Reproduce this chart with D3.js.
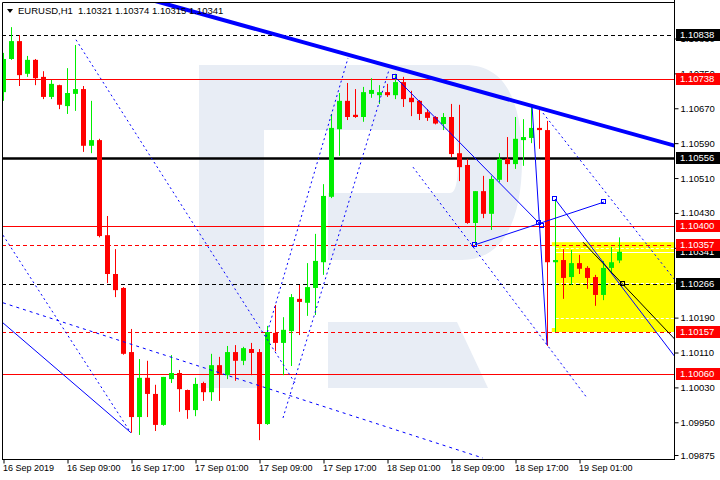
<!DOCTYPE html>
<html><head><meta charset="utf-8">
<script src="https://cdn.jsdelivr.net/npm/d3@7"></script>
<style>
body{margin:0;background:#fff}
svg{display:block}
text{font-family:"Liberation Sans",Arial,sans-serif;font-size:9px}
</style>
</head><body>
<svg id="chart" width="720" height="480"></svg>
<script>
// ---------------- DATA ----------------
const symbolName = "EURUSD,H1";
const lastQuote = [1.10321, 1.10374, 1.10315, 1.10341];

const timeLabels = ["16 Sep 2019","16 Sep 09:00","16 Sep 17:00","17 Sep 01:00","17 Sep 09:00",
  "17 Sep 17:00","18 Sep 01:00","18 Sep 09:00","18 Sep 17:00","19 Sep 01:00"];
const timeLabelBars = [0, 8, 16, 24, 32, 40, 48, 56, 64, 72];

const opens = [1.10707,1.10783,1.10824,1.10749,1.10781,1.10742,1.10696,1.10723,1.10675,1.10703,
  1.10714,1.10584,1.10597,1.10379,1.10290,1.10258,1.10111,1.09962,1.10052,1.10015,
  1.09944,1.10049,1.10063,1.10024,1.09978,1.10040,1.10019,1.10081,1.10058,1.10111,
  1.10091,1.10118,1.10111,1.09946,1.10155,1.10132,1.10159,1.10233,1.10224,1.10258,
  1.10317,1.10467,1.10622,1.10687,1.10655,1.10650,1.10703,1.10700,1.10707,1.10700,
  1.10730,1.10694,1.10687,1.10661,1.10650,1.10634,1.10650,1.10567,1.10540,1.10407,
  1.10480,1.10428,1.10506,1.10554,1.10542,1.10597,1.10602,1.10625,1.10620,1.10317,
  1.10322,1.10283,1.10315,1.10304,1.10283,1.10242,1.10304,1.10321];
const highs = [1.10797,1.10856,1.10838,1.10790,1.10783,1.10755,1.10735,1.10724,1.10762,1.10815,
  1.10721,1.10687,1.10600,1.10423,1.10347,1.10260,1.10164,1.10095,1.10091,1.10036,
  1.10054,1.10104,1.10070,1.10025,1.10052,1.10043,1.10107,1.10100,1.10125,1.10127,
  1.10123,1.10132,1.10118,1.10171,1.10219,1.10191,1.10244,1.10265,1.10315,1.10382,
  1.10496,1.10657,1.10705,1.10728,1.10714,1.10719,1.10739,1.10723,1.10726,1.10749,
  1.10742,1.10710,1.10689,1.10668,1.10652,1.10659,1.10680,1.10678,1.10554,1.10480,
  1.10515,1.10515,1.10567,1.10604,1.10650,1.10645,1.10678,1.10671,1.10641,1.10462,
  1.10347,1.10345,1.10334,1.10308,1.10288,1.10320,1.10352,1.10374];
const lows = [1.10687,1.10781,1.10721,1.10742,1.10723,1.10691,1.10691,1.10668,1.10657,1.10664,
  1.10570,1.10567,1.10374,1.10269,1.10237,1.10105,1.09926,1.09921,1.09962,1.09930,
  1.09942,1.10040,1.09974,1.09958,1.09964,1.09999,1.09999,1.09999,1.10049,1.10045,
  1.10081,1.10058,1.09909,1.09944,1.10113,1.10058,1.10079,1.10150,1.10194,1.10196,
  1.10288,1.10464,1.10561,1.10643,1.10648,1.10639,1.10694,1.10680,1.10696,1.10691,
  1.10673,1.10652,1.10643,1.10641,1.10633,1.10620,1.10558,1.10503,1.10405,1.10357,
  1.10418,1.10391,1.10501,1.10501,1.10531,1.10538,1.10590,1.10577,1.10125,1.10157,
  1.10233,1.10265,1.10290,1.10256,1.10217,1.10230,1.10290,1.10315];
const closes = [1.10783,1.10824,1.10746,1.10781,1.10739,1.10696,1.10726,1.10678,1.10705,1.10714,
  1.10584,1.10597,1.10377,1.10290,1.10253,1.10107,1.09962,1.10052,1.10015,1.09944,
  1.10054,1.10063,1.10026,1.09978,1.10038,1.10019,1.10081,1.10061,1.10111,1.10091,
  1.10120,1.10109,1.09946,1.10157,1.10132,1.10162,1.10237,1.10226,1.10260,1.10320,
  1.10469,1.10625,1.10687,1.10650,1.10650,1.10707,1.10712,1.10707,1.10700,1.10730,
  1.10691,1.10684,1.10657,1.10648,1.10635,1.10650,1.10565,1.10535,1.10407,1.10480,
  1.10428,1.10508,1.10554,1.10542,1.10600,1.10604,1.10625,1.10620,1.10317,1.10322,
  1.10281,1.10315,1.10302,1.10281,1.10242,1.10304,1.10317,1.10341];

const priceTicks = [1.10830,1.10750,1.10670,1.10590,1.10510,1.10430,1.10350,1.10270,
  1.10190,1.10110,1.10030,1.09950,1.09875];
const hiddenTickLabels = [1.10350, 1.10270];

const levelPrices = [1.10838,1.10738,1.10556,1.10400,1.10357,1.10266,1.10157,1.10060];
const levelKinds  = ["dashBlack","solidRed","thickBlack","solidRed","dashRed","dashBlack","dashRed","solidRed"];
const bidPrice = 1.10341;

// trend objects: [bar, price] anchors
const trendStarts = [[19,1.10916],[9.125,1.10827],[0,1.10379],[-0.2,1.10181],[0,1.10224],
  [32.875,1.10146],[35,1.09960],[51.25,1.10535],[67.5,1.10659],[59,1.10357],
  [49,1.10742],[66.125,1.10678],[69,1.10462],[72.5,1.10363]];
const trendEnds = [[84,1.10584],[36.5,1.10040],[15.9,1.09928],[16,1.09926],[60,1.09868],
  [43.125,1.10785],[48.25,1.10758],[73,1.10006],[84,1.10276],[75.125,1.10455],
  [67,1.10407],[68,1.10127],[84,1.10100],[84,1.10140]];
const trendKinds = ["thick","dot","dot","thin","dash","dot","dot","dot","dot","thin",
  "thin","thin","thin","black"];

const anchorPoints = [[49,1.10742],[59,1.10357],[67,1.10407],[75.125,1.10455],[69,1.10462],[67.4,1.10400]];
const targetPoint = [77.5,1.10266];

const boxBars = [69.1, 85];
const boxPrices = [1.10363, 1.10157];
const boxGrid = [1.10350, 1.10270, 1.10190];

// ---------------- DRAW ----------------
const svg = d3.select("#chart");
const L = 2, T = 2, R = 674, B = 459;

const x = d3.scaleLinear().domain([0, 84]).range([3, 675]);
const y = d3.scaleLinear().domain([1.09875, 1.10838]).range([455, 35]);

svg.append("rect").attr("width",720).attr("height",480).attr("fill","#fff");

svg.append("defs").append("clipPath").attr("id","plot")
  .append("rect").attr("x",L+1).attr("y",T+1).attr("width",R-L-1).attr("height",B-T-1);

const plot = svg.append("g").attr("clip-path","url(#plot)");

// watermark logo (decorative background)
const wm = plot.append("g").attr("fill","#e8edf5");
wm.append("rect").attr("x",199).attr("y",65).attr("width",65).attr("height",323);
wm.append("path").attr("d","M264,65 L465,65 C505,65 522,100 522,160 C522,225 500,260 462,260 L328,260 L328,193 L450,193 C456,193 458,180 458,162 C458,140 455,130 450,130 L264,130 Z");
wm.append("path").attr("d","M328,322 L457,322 L488,388 L328,388 Z");

// yellow box
plot.append("rect")
  .attr("x", x(boxBars[0])).attr("y", y(boxPrices[0]))
  .attr("width", x(boxBars[1]) - x(boxBars[0]))
  .attr("height", y(boxPrices[1]) - y(boxPrices[0]))
  .attr("fill","#ffff00");
plot.selectAll(".yh").data([boxPrices[0], boxPrices[1]]).join("rect")
  .attr("x", x(boxBars[0]) - 4).attr("y", d => y(d) - (d===boxPrices[0]?0:4))
  .attr("width",4).attr("height",4).attr("fill","#ffff00");
plot.selectAll(".bg").data(boxGrid).join("line")
  .attr("x1", x(boxBars[0])).attr("x2", x(boxBars[1]))
  .attr("y1", d => Math.round(y(d)) + 0.5).attr("y2", d => Math.round(y(d)) + 0.5)
  .attr("stroke","#fff").attr("stroke-dasharray","3,2");
plot.append("line")
  .attr("x1", x(boxBars[0])).attr("x2", x(boxBars[1]))
  .attr("y1", Math.round(y(bidPrice)) + 0.5).attr("y2", Math.round(y(bidPrice)) + 0.5)
  .attr("stroke","#fff");

// horizontal levels
const levelStyle = {
  dashBlack: {c:"#000", w:1, d:"4,3"},
  solidRed: {c:"#ff0000", w:1, d:null},
  thickBlack:{c:"#000", w:2.5, d:null},
  dashRed:  {c:"#ff0000", w:1, d:"4,3"}
};
plot.selectAll(".lvl").data(levelPrices).join("line")
  .attr("x1", L).attr("x2", R)
  .attr("y1", d => Math.round(y(d)) + 0.5).attr("y2", d => Math.round(y(d)) + 0.5)
  .attr("stroke", (d,i) => levelStyle[levelKinds[i]].c)
  .attr("stroke-width", (d,i) => levelStyle[levelKinds[i]].w)
  .attr("stroke-dasharray", (d,i) => levelStyle[levelKinds[i]].d);

// candles
const bars = d3.range(opens.length).map(i => ({i, o:opens[i], h:highs[i], l:lows[i], c:closes[i]}));
const up = "#00ee00", dn = "#ff0000";
const cg = plot.append("g");
cg.selectAll(".wick").data(bars).join("line")
  .attr("x1", d => x(d.i) + 0.5).attr("x2", d => x(d.i) + 0.5)
  .attr("y1", d => y(d.h)).attr("y2", d => y(d.l))
  .attr("stroke", d => d.c >= d.o ? up : dn);
cg.selectAll(".body").data(bars).join("rect")
  .attr("x", d => x(d.i) - 2).attr("width", 5)
  .attr("y", d => y(Math.max(d.o, d.c)))
  .attr("height", d => Math.max(1.5, Math.abs(y(d.o) - y(d.c))))
  .attr("fill", d => d.c >= d.o ? up : dn);

// trend lines
const trendStyle = {
  thick: {c:"#0000ff", w:4, d:null},
  dot:   {c:"#0000ff", w:1, d:"2,3"},
  dash:  {c:"#0000ff", w:1, d:"3,4"},
  thin:  {c:"#0000ff", w:1, d:null},
  black: {c:"#000", w:1, d:null}
};
plot.selectAll(".tr").data(trendStarts).join("line")
  .attr("x1", d => x(d[0])).attr("y1", d => y(d[1]))
  .attr("x2", (d,i) => x(trendEnds[i][0])).attr("y2", (d,i) => y(trendEnds[i][1]))
  .attr("stroke", (d,i) => trendStyle[trendKinds[i]].c)
  .attr("stroke-width", (d,i) => trendStyle[trendKinds[i]].w)
  .attr("stroke-dasharray", (d,i) => trendStyle[trendKinds[i]].d);

plot.selectAll(".anc").data(anchorPoints).join("rect")
  .attr("x", d => Math.round(x(d[0])) - 2.5).attr("y", d => Math.round(y(d[1])) - 2.5)
  .attr("width",4).attr("height",4).attr("fill","none").attr("stroke","#0000ff");
plot.append("rect")
  .attr("x", Math.round(x(targetPoint[0])) - 2.5).attr("y", Math.round(y(targetPoint[1])) - 2.5)
  .attr("width",4).attr("height",4).attr("fill","none").attr("stroke","#000");

// frame
svg.append("path").attr("d",`M${L+0.5},${B} V${T+0.5} H${R+0.5}`).attr("fill","none").attr("stroke","#000");
svg.append("line").attr("x1",R+0.5).attr("x2",R+0.5).attr("y1",0).attr("y2",B+1).attr("stroke","#000");
svg.append("line").attr("x1",L).attr("x2",R+1).attr("y1",B+0.5).attr("y2",B+0.5).attr("stroke","#000");

// right price axis
const yAxis = d3.axisRight(y).tickValues(priceTicks)
  .tickFormat(d => hiddenTickLabels.includes(d) ? "" : d.toFixed(5)).tickSize(4).tickPadding(2);
const ya = svg.append("g").attr("transform",`translate(${R+0.5},0)`).call(yAxis);
ya.select(".domain").remove();
ya.selectAll("text").attr("fill","#000").style("font-size","9.5px");

// bottom time axis
const xAxis = d3.axisBottom(x).tickValues(timeLabelBars).tickFormat((d,i) => timeLabels[i]).tickSize(4).tickPadding(1);
const xa = svg.append("g").attr("transform",`translate(0.5,${B+0.5})`).call(xAxis);
xa.select(".domain").remove();
xa.selectAll("text").attr("text-anchor","start").attr("dx","-1").attr("fill","#000").style("font-size","9px");

// price labels
function priceLabel(p, bg){
  const g = svg.append("g").attr("transform",`translate(${R+2},${Math.round(y(p))})`);
  g.append("rect").attr("x",0).attr("y",-6).attr("width",44).attr("height",12).attr("fill",bg);
  g.append("text").attr("x",4).attr("dy","0.35em").attr("fill","#fff").style("font-size","9.5px").text(p.toFixed(5));
}
priceLabel(bidPrice, "#000");
levelPrices.forEach((p,i) => priceLabel(p, levelKinds[i].endsWith("Red") ? "#ff0000" : "#000"));

// title
svg.append("path").attr("d","M7,9 L13,9 L10,13 Z").attr("fill","#000");
svg.append("text").attr("x",18).attr("y",14).style("font-size","9.5px").text(symbolName);
svg.append("text").attr("x",78).attr("y",14).style("font-size","9.5px").text(lastQuote.map(v => v.toFixed(5)).join(" "));
</script>
</body></html>
